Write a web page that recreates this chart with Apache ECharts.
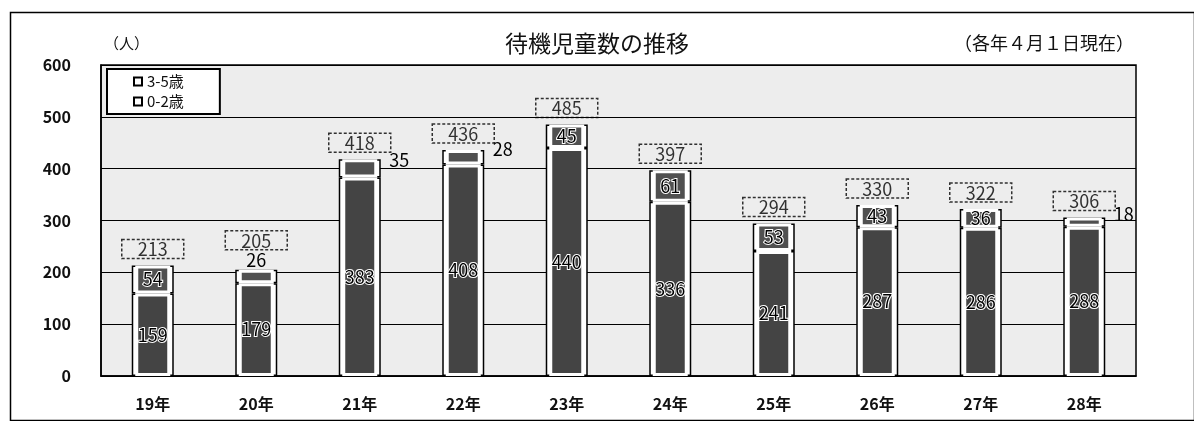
<!DOCTYPE html>
<html lang="ja">
<head>
<meta charset="utf-8">
<title>待機児童数の推移</title>
<script src="https://cdn.jsdelivr.net/npm/echarts@6/dist/echarts.min.js"></script>
<style>
  html, body { margin: 0; padding: 0; background: #fff; }
  #chart { width: 1194px; height: 421px; }
</style>
</head>
<body>
<div id="chart"></div>
<script>
// Waiting-list children by fiscal year (as of April 1 each year)
const years = ['19年', '20年', '21年', '22年', '23年', '24年', '25年', '26年', '27年', '28年'];
const age0to2 = [159, 179, 383, 408, 440, 336, 241, 287, 286, 288];
const age3to5 = [54, 26, 35, 28, 45, 61, 53, 43, 36, 18];
const totals = [213, 205, 418, 436, 485, 397, 294, 330, 322, 306];
const yTicks = [0, 100, 200, 300, 400, 500, 600];

// where the 3-5歳 value sits relative to its segment
const upperLabelSide = ['inside', 'top', 'right', 'right', 'inside', 'inside', 'inside', 'inside', 'inside', 'right'];

const FONT = '"Noto Sans CJK JP", "Noto Sans", sans-serif';
const INK = '#111';
const CORE = '#444';

const chart = echarts.init(document.getElementById('chart'));

const valueLabel = {
  show: true,
  position: 'inside',
  fontFamily: FONT,
  fontSize: 18,
  color: '#000',
  textBorderColor: '#fff',
  textBorderWidth: 2
};

const upperData = age3to5.map((v, i) => {
  const side = upperLabelSide[i];
  const lab = Object.assign({}, valueLabel, { position: side });
  if (side === 'top') { lab.distance = 1; lab.textBorderWidth = 0; }
  if (side === 'right') { lab.distance = 12; lab.offset = [0, -8]; lab.textBorderWidth = 0; }
  return { value: v, label: lab };
});

const totalData = totals.map((v, i) => ({
  value: v,
  label: { distance: upperLabelSide[i] === 'top' ? 20 : 7 }
}));

chart.setOption({
  backgroundColor: '#fff',
  animation: false,
  textStyle: { fontFamily: FONT },
  title: {
    text: '待機児童数の推移',
    left: 'center',
    top: 27,
    textStyle: { fontFamily: FONT, fontSize: 23, fontWeight: 'normal', color: INK }
  },
  graphic: [
    { type: 'rect', left: 8, top: 10, shape: { width: 1184, height: 408 },
      style: { fill: 'none', stroke: '#000', lineWidth: 1.5 }, silent: true },
    { type: 'text', left: 104, top: 36,
      style: { text: '（人）', font: '15px ' + FONT, fill: INK } },
    { type: 'text', right: 60, top: 34,
      style: { text: '（各年４月１日現在）', font: '18px ' + FONT, fill: INK } }
  ],
  legend: {
    orient: 'vertical',
    left: 107,
    top: 69,
    data: ['3-5歳', '0-2歳'],
    icon: 'rect',
    itemWidth: 8,
    itemHeight: 8,
    itemGap: 5,
    padding: [5, 36, 5, 26],
    backgroundColor: '#fff',
    borderColor: '#000',
    borderWidth: 2,
    textStyle: { fontFamily: FONT, fontSize: 15, color: INK }
  },
  grid: {
    left: 101, right: 58, top: 65, bottom: 45,
    show: true,
    backgroundColor: '#ededed',
    borderColor: '#000',
    borderWidth: 1.5
  },
  xAxis: [
    {
      type: 'category',
      data: years,
      axisLine: { lineStyle: { color: '#000', width: 1.5 } },
      axisTick: { show: false },
      axisLabel: { fontFamily: FONT, fontSize: 16, fontWeight: 'bold', color: INK, margin: 20 }
    },
    {
      type: 'category',
      data: years,
      show: false
    }
  ],
  yAxis: {
    type: 'value',
    min: yTicks[0],
    max: yTicks[yTicks.length - 1],
    interval: 100,
    axisLine: { show: true, lineStyle: { color: '#000', width: 1.5 } },
    axisTick: { show: false },
    axisLabel: { fontFamily: FONT, fontSize: 16, fontWeight: 'bold', color: INK, margin: 30 },
    splitLine: { lineStyle: { color: '#000', width: 1.2 } }
  },
  series: [
    // outlined frames of each stacked segment
    {
      name: '0-2歳', type: 'bar', stack: 'frame', xAxisIndex: 0,
      barWidth: 42, data: age0to2,
      itemStyle: { color: '#fff', borderColor: '#000', borderWidth: 1.5 }
    },
    {
      name: '3-5歳', type: 'bar', stack: 'frame', xAxisIndex: 0,
      barWidth: 42, data: age3to5,
      itemStyle: { color: '#fff', borderColor: '#000', borderWidth: 1.5 }
    },
    // dark cores inside the frames
    {
      name: '0-2歳core', type: 'bar', stack: 'core', xAxisIndex: 1,
      barWidth: 35, data: age0to2,
      itemStyle: { color: CORE, borderColor: '#fff', borderWidth: 3 },
      label: valueLabel
    },
    {
      name: '3-5歳core', type: 'bar', stack: 'core', xAxisIndex: 1,
      barWidth: 35, data: upperData,
      itemStyle: { color: '#505050', borderColor: '#fff', borderWidth: 3 },
      label: valueLabel
    },
    // totals in dashed boxes
    {
      name: '合計', type: 'scatter', xAxisIndex: 0,
      symbolSize: 0, data: totalData,
      label: {
        show: true,
        position: 'top',
        fontFamily: FONT,
        fontSize: 18,
        color: '#000',
        padding: [1, 16, 0, 16],
        borderColor: '#000',
        borderWidth: 1.5,
        borderType: [3, 2]
      },
      z: 5
    }
  ]
});
</script>
</body>
</html>
